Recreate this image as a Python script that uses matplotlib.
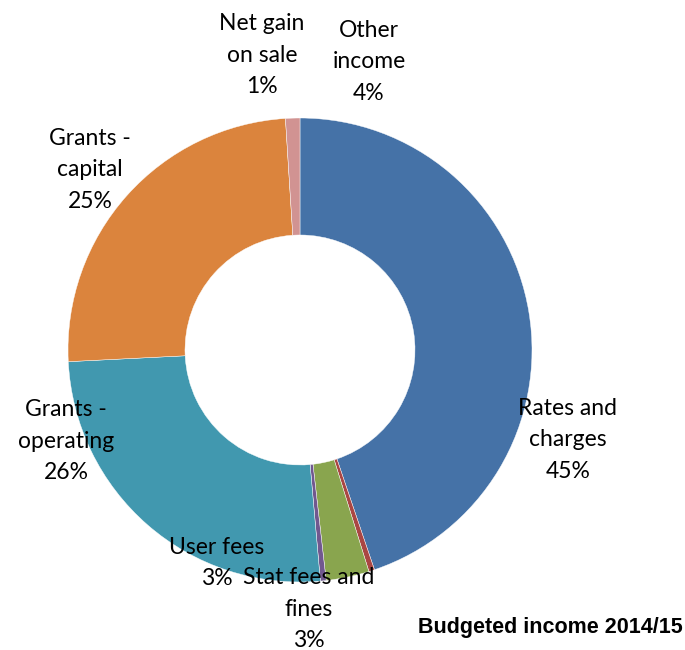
import matplotlib
matplotlib.use("Agg")
import matplotlib.pyplot as plt

# slices clockwise from 12 o'clock
shares = [44.8, 0.4, 3.0, 0.4, 25.6, 24.8, 1.0]
colours = ["#4572A7", "#AA4643", "#89A54E", "#71588F", "#4198AF", "#DB843D", "#D19392"]

label_texts = ["Rates and\ncharges\n45%", "Stat fees and\nfines\n3%", "User fees\n3%",
               "Grants -\noperating\n26%", "Grants -\ncapital\n25%",
               "Net gain\non sale\n1%", "Other\nincome\n4%"]
# label centres in pixels (x from left, y from top)
label_x = [568, 309, 217, 66, 90, 262, 369]
label_y = [440, 609, 563, 441, 170, 55, 62]

W, H = 685, 650
fig = plt.figure(figsize=(W / 100, H / 100), dpi=100)
ax = fig.add_axes([0, 0, 1, 1])
ax.set_xlim(0, W)
ax.set_ylim(0, H)
ax.set_aspect("equal")
ax.axis("off")

ax.pie(shares, colors=colours, startangle=90, counterclock=False,
       radius=232, center=(300, H - 350),
       wedgeprops=dict(width=117, edgecolor="white", linewidth=0.3))
ax.set_xlim(0, W)
ax.set_ylim(0, H)

for txt, x, y in zip(label_texts, label_x, label_y):
    ax.text(x, H - y, txt, ha="center", va="center", fontsize=16.5,
            family=["Lato", "DejaVu Sans"], linespacing=1.6)

ax.text(683, H - 628, "Budgeted income 2014/15", ha="right", va="center",
        fontsize=15.5, fontweight="bold",
        family=["Liberation Sans Narrow", "Liberation Sans", "DejaVu Sans"])

fig.savefig("out.png", dpi=100)
